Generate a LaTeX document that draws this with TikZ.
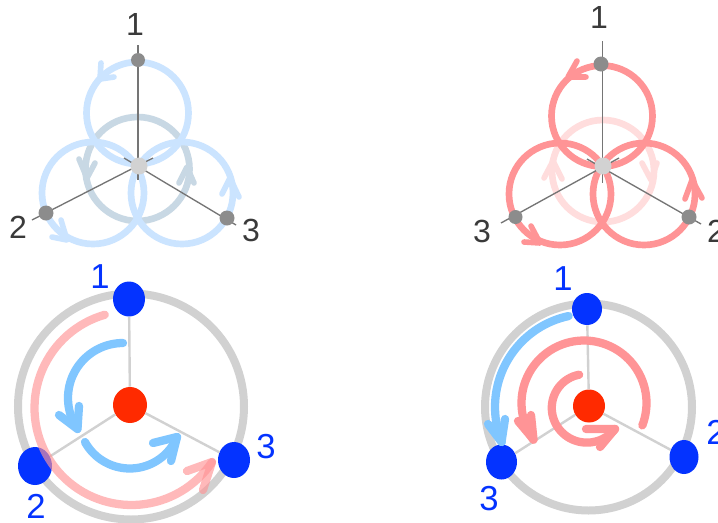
\documentclass[tikz,border=0pt]{standalone}
\usepackage{fontspec}
\setmainfont{Liberation Sans}
\definecolor{loopblue}{HTML}{CBE4FF}
\definecolor{loopgrey}{HTML}{C8D8E4}
\definecolor{looppink}{HTML}{FF9496}
\definecolor{loopfade}{HTML}{FFDDDD}
\definecolor{spokegrey}{HTML}{757575}
\definecolor{pivotgrey}{HTML}{8C8C8C}
\definecolor{hubgrey}{HTML}{D2D2D2}
\definecolor{ringgrey}{HTML}{D1D1D1}
\definecolor{dotblue}{HTML}{0433FF}
\definecolor{dotred}{HTML}{FF2A00}
\definecolor{skyarrow}{HTML}{80C6FF}
\definecolor{darktext}{HTML}{3A3A3A}
\tikzset{
  x=0.75pt,y=-0.75pt,
  loopline/.style={line width=5pt,draw=#1},
  headline/.style={line width=4.2pt,draw=#1,line cap=round,line join=round},
  spoke/.style={line width=1pt,draw=spokegrey},
  pivot/.style={circle,fill=pivotgrey,inner sep=0pt,minimum size=#1*0.75pt},
  hub/.style={circle,fill=hubgrey,inner sep=0pt,minimum size=17*0.75pt},
  ringline/.style={line width=6pt,draw=ringgrey},
  rod/.style={line width=1.8pt,draw=ringgrey},
  ball/.style args={#1/#2/#3}{ellipse,fill=#3,inner sep=0pt,minimum width=#1*0.75pt,minimum height=#2*0.75pt},
  curvearrow/.style={line width=6.2pt,draw=#1,line cap=round,line join=round},
  greylabel/.style={text=darktext,font=\fontsize{24}{24}\selectfont,inner sep=0pt},
  bluelabel/.style={text=dotblue,font=\fontsize{26}{26}\selectfont,inner sep=0pt},
}
\usetikzlibrary{shapes.geometric}
\begin{document}
\begin{tikzpicture}
\useasboundingbox (0,0) rectangle (718,522);
\fill[white] (0,0) rectangle (718,522);

% ---- top left
\draw[loopline=loopgrey] (137.5,169) circle[radius=52];
\draw[loopline=loopblue] (137.5,113) circle[radius=51];
\draw[loopline=loopblue] (93,193) circle[radius=51];
\draw[loopline=loopblue] (182,193) circle[radius=51];
\draw[headline=loopblue] (101,63) -- (100,79) -- (114,77);
\draw[headline=loopblue] (61,220) -- (67,240) -- (52,237);
\draw[headline=loopblue] (222,194) -- (230,178) -- (239,197);
\draw[headline=loopgrey] (79,159) -- (87,178) -- (95,163);
\draw[headline=loopgrey] (179,183) -- (187,167) -- (194,183);
\coordinate (aTop) at (138,45);
\coordinate (aTopEnd) at (138,180);
\coordinate (aLeft) at (32,220);
\coordinate (aLeftEnd) at (153,158);
\coordinate (aRight) at (236,225);
\coordinate (aRightEnd) at (124,158);
\draw[spoke] (aTop) -- (aTopEnd);
\draw[spoke] (aLeft) -- (aLeftEnd);
\draw[spoke] (aRight) -- (aRightEnd);
\node[pivot=14] (a1) at (138,60) {};
\node[pivot=15] (a2) at (46,213) {};
\node[pivot=15] (a3) at (227,218) {};
\node[hub] (a0) at (139,166) {};
\node[greylabel] (la1) at (135,24) {1};
\node[greylabel] (la2) at (18,227) {2};
\node[greylabel] (la3) at (251,230) {3};

% ---- top right
\draw[loopline=loopfade] (603,171) circle[radius=51];
\draw[loopline=looppink] (602,116) circle[radius=50.5];
\draw[loopline=looppink] (560,194) circle[radius=51];
\draw[loopline=looppink] (644,194) circle[radius=51];
\draw[headline=looppink] (577,61) -- (568,77) -- (586,77);
\draw[headline=looppink] (531,226) -- (540,243) -- (524,242);
\draw[headline=looppink] (685,199) -- (692,180) -- (702,198);
\draw[headline=loopfade] (544,178) -- (553,161) -- (562,179);
\draw[headline=loopfade] (642,163) -- (651,180) -- (657,163);
\coordinate (bTop) at (602.5,41);
\coordinate (bTopEnd) at (602.5,183);
\coordinate (bLeft) at (501,223);
\coordinate (bLeftEnd) at (619,158);
\coordinate (bRight) at (701,224);
\coordinate (bRightEnd) at (587,159);
\draw[spoke] (bTop) -- (bTopEnd);
\draw[spoke] (bLeft) -- (bLeftEnd);
\draw[spoke] (bRight) -- (bRightEnd);
\node[pivot=15] (b1) at (601,64) {};
\node[pivot=14] (b3) at (515.5,217) {};
\node[pivot=15] (b2) at (689,217) {};
\node[hub] (b0) at (603,166) {};
\node[greylabel] (lb1) at (599,17) {1};
\node[greylabel] (lb3) at (482,231) {3};
\node[greylabel] (lb2) at (716,231) {2};

% ---- bottom left
\draw[ringline] (131,406.5) circle[radius=113];
\node[ball=34/36/dotred] (c0) at (130,405) {};
\node[ball=32/35/dotblue] (c1) at (129,299) {};
\node[ball=34/38/dotblue] (c2) at (35,466) {};
\node[ball=32/36/dotblue] (c3) at (234,460) {};
\draw[rod] (c1) -- (c0);
\draw[rod] (c2) -- (c0);
\draw[rod] (c3) -- (c0);
\draw[curvearrow=skyarrow] plot[domain=90:214,samples=40] ({123+55*cos(\x)},{398-55*sin(\x)});
\draw[curvearrow=skyarrow] (59,415) -- (77.5,429) -- (79,406);
\draw[curvearrow=skyarrow] plot[domain=208.9:337.3,samples=40] ({129.8+51.2*cos(\x)},{417.3-51.2*sin(\x)});
\draw[curvearrow=skyarrow] (153,443) -- (177,437) -- (171,461);
\draw[curvearrow=looppink,draw opacity=0.65] plot[domain=106:326,samples=70] ({131.5+97*cos(\x)},{408-97*sin(\x)});
\draw[curvearrow=looppink,draw opacity=0.65] (187,471) -- (212,462) -- (203,490);
\node[bluelabel] (lc1) at (100,277) {1};
\node[bluelabel] (lc2) at (36,506) {2};
\node[bluelabel] (lc3) at (266,447) {3};

% ---- bottom right
\draw[ringline] (588.5,407) circle[radius=103.5];
\node[ball=32/33/dotred] (d0) at (589,406) {};
\node[ball=30/32/dotblue] (d1) at (587,309) {};
\node[ball=31/35/dotblue] (d3) at (501.5,462) {};
\node[ball=29/34/dotblue] (d2) at (684,457) {};
\draw[rod] (d1) -- (d0);
\draw[rod] (d3) -- (d0);
\draw[rod] (d2) -- (d0);
\draw[curvearrow=skyarrow] plot[domain=102:202,samples=40] ({588+93*cos(\x)},{407-93*sin(\x)});
\draw[curvearrow=skyarrow] (488,424) -- (501.5,442) -- (505,419);
\draw[curvearrow=looppink] plot[domain=-21:216,samples=70] ({584+62.5*cos(\x)},{403-62.5*sin(\x)});
\draw[curvearrow=looppink] (518,421) -- (533.5,439.5) -- (531,415);
\draw[curvearrow=looppink] plot[domain=102:323,samples=60] ({586+(33+(\x-102)/221*3.4)*cos(\x)},{407-(33+(\x-102)/221*3.4)*sin(\x)});
\draw[curvearrow=looppink] (586,429) -- (615,429) -- (600,447);
\node[bluelabel] (ld1) at (563,279) {1};
\node[bluelabel] (ld3) at (489,499) {3};
\node[bluelabel] (ld2) at (716,432) {2};
\end{tikzpicture}
\end{document}
